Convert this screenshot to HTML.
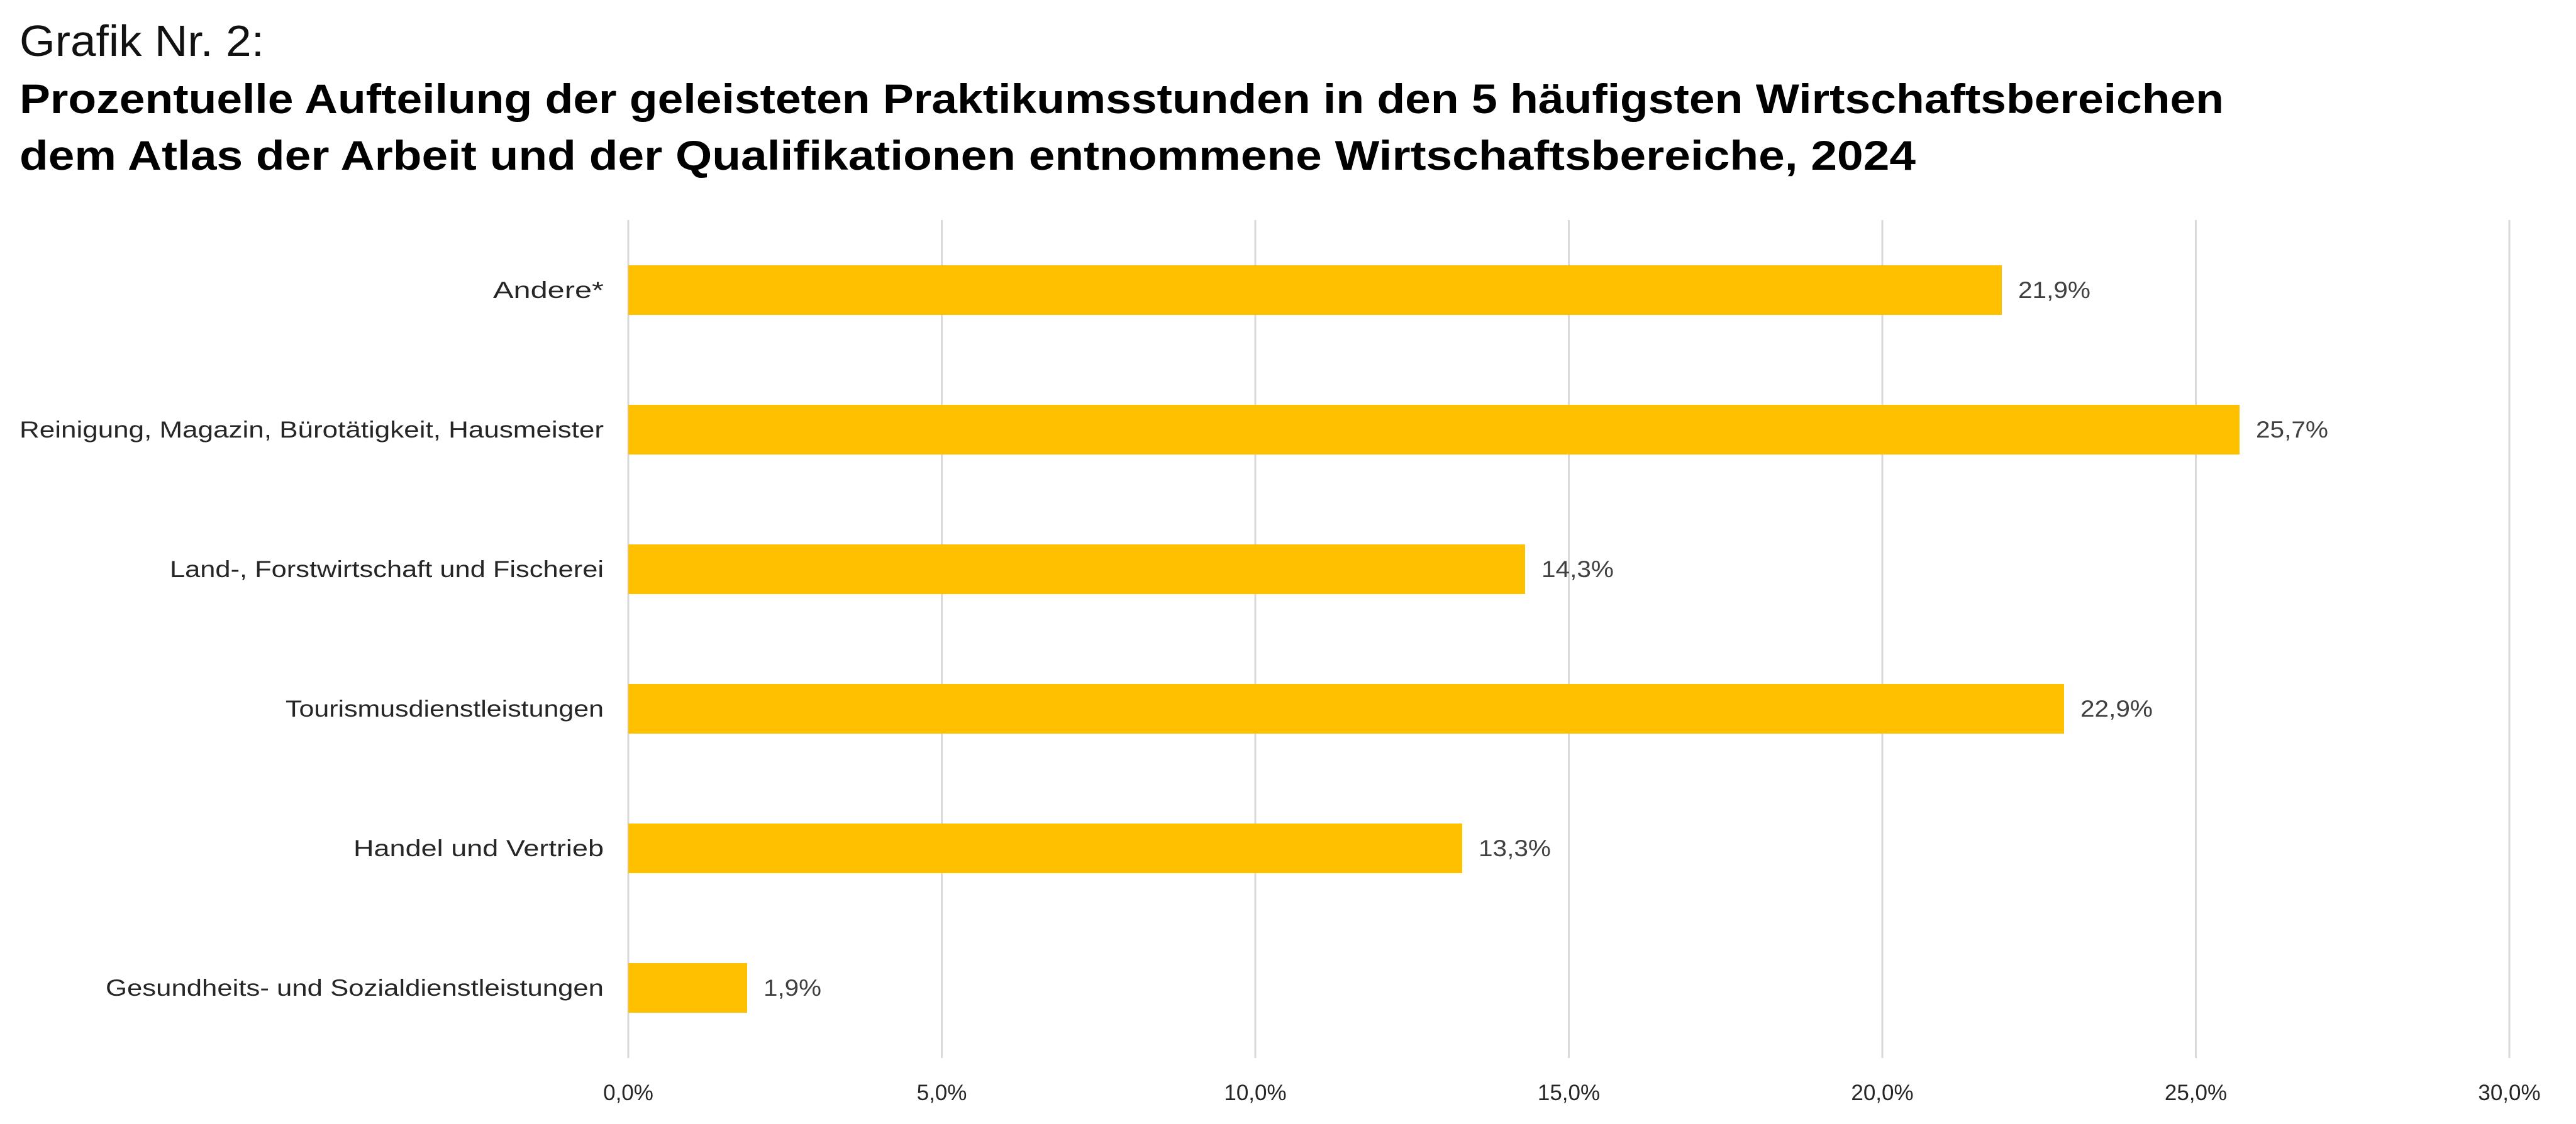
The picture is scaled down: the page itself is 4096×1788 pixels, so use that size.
<!DOCTYPE html>
<html><head><meta charset="utf-8"><style>
html,body{margin:0;padding:0;background:#fff;}
svg{display:block;}
text{font-family:"Liberation Sans",sans-serif;}
</style></head><body>
<svg width="4096" height="1788" viewBox="0 0 4096 1788" xmlns="http://www.w3.org/2000/svg">
<rect width="4096" height="1788" fill="#fff"/>
<text x="31" y="89" font-size="70" fill="#111" textLength="389" lengthAdjust="spacingAndGlyphs">Grafik Nr. 2:</text>
<text x="31" y="180" font-size="66" font-weight="bold" fill="#000" textLength="3505" lengthAdjust="spacingAndGlyphs">Prozentuelle Aufteilung der geleisteten Praktikumsstunden in den 5 häufigsten Wirtschaftsbereichen</text>
<text x="31" y="270" font-size="66" font-weight="bold" fill="#000" textLength="3015" lengthAdjust="spacingAndGlyphs">dem Atlas der Arbeit und der Qualifikationen entnommene Wirtschaftsbereiche, 2024</text>
<g stroke="#d9d9d9" stroke-width="3">
<line x1="999" y1="350" x2="999" y2="1683"/>
<line x1="1497.5" y1="350" x2="1497.5" y2="1683"/>
<line x1="1996" y1="350" x2="1996" y2="1683"/>
<line x1="2494.5" y1="350" x2="2494.5" y2="1683"/>
<line x1="2993" y1="350" x2="2993" y2="1683"/>
<line x1="3491.5" y1="350" x2="3491.5" y2="1683"/>
<line x1="3990" y1="350" x2="3990" y2="1683"/>
</g>
<g fill="#FFC000">
<rect x="999" y="422" width="2184" height="79"/>
<rect x="999" y="644" width="2562" height="79"/>
<rect x="999" y="866" width="1426" height="79"/>
<rect x="999" y="1088" width="2283" height="79"/>
<rect x="999" y="1310" width="1326" height="79"/>
<rect x="999" y="1532" width="189" height="79"/>
</g>
<g font-size="37" fill="#262626" text-anchor="end">
<text x="960" y="474" textLength="176" lengthAdjust="spacingAndGlyphs">Andere*</text>
<text x="960" y="696" textLength="929" lengthAdjust="spacingAndGlyphs">Reinigung, Magazin, Bürotätigkeit, Hausmeister</text>
<text x="960" y="918" textLength="690" lengthAdjust="spacingAndGlyphs">Land-, Forstwirtschaft und Fischerei</text>
<text x="960" y="1140" textLength="506" lengthAdjust="spacingAndGlyphs">Tourismusdienstleistungen</text>
<text x="960" y="1362" textLength="398" lengthAdjust="spacingAndGlyphs">Handel und Vertrieb</text>
<text x="960" y="1584" textLength="792" lengthAdjust="spacingAndGlyphs">Gesundheits- und Sozialdienstleistungen</text>
</g>
<g font-size="37" fill="#404040">
<text x="3209" y="474" textLength="115" lengthAdjust="spacingAndGlyphs">21,9%</text>
<text x="3587" y="696" textLength="115" lengthAdjust="spacingAndGlyphs">25,7%</text>
<text x="2451" y="918" textLength="115" lengthAdjust="spacingAndGlyphs">14,3%</text>
<text x="3308" y="1140" textLength="115" lengthAdjust="spacingAndGlyphs">22,9%</text>
<text x="2351" y="1362" textLength="115" lengthAdjust="spacingAndGlyphs">13,3%</text>
<text x="1214" y="1584" textLength="92" lengthAdjust="spacingAndGlyphs">1,9%</text>
</g>
<g font-size="35" fill="#262626" text-anchor="middle">
<text x="999" y="1750">0,0%</text>
<text x="1497.5" y="1750">5,0%</text>
<text x="1996" y="1750">10,0%</text>
<text x="2494.5" y="1750">15,0%</text>
<text x="2993" y="1750">20,0%</text>
<text x="3491.5" y="1750">25,0%</text>
<text x="3990" y="1750">30,0%</text>
</g>
</svg>
</body></html>
